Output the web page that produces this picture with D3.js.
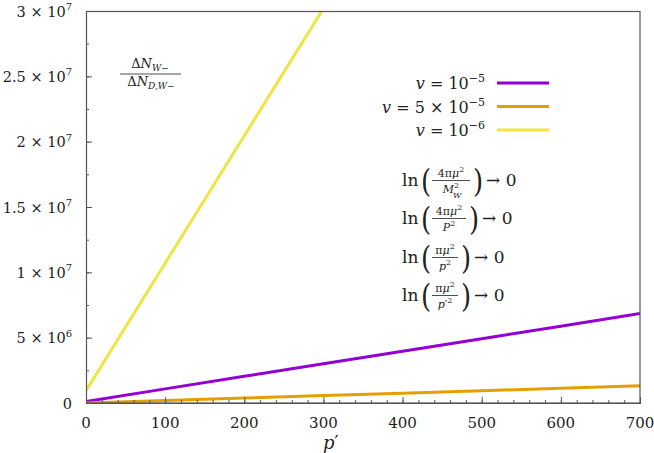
<!DOCTYPE html>
<html>
<head>
<meta charset="utf-8">
<title>dN ratio vs p'</title>
<script src="https://cdnjs.cloudflare.com/ajax/libs/d3/7.8.5/d3.min.js"></script>
<style>
  body { margin: 0; background: #fff; }
  text, tspan { font-family: "DejaVu Serif", serif !important; }
  .it { font-style: italic; }
  .up { font-style: normal; }
</style>
</head>
<body>
<svg id="svg" width="654" height="453"></svg>
<script>
// data
const pVals = [0, 100, 200, 300, 400, 500, 600, 700]
const v1e5 = [0.12e6, 1.08e6, 2.04e6, 3.0e6, 3.96e6, 4.92e6, 5.88e6, 6.85e6]
const v5e5 = [0, 0.19e6, 0.38e6, 0.57e6, 0.75e6, 0.94e6, 1.13e6, 1.32e6]
const v1e6 = [0.95e6, 1.07e7, 2.045e7, 3.02e7]
const xTicks = [0, 100, 200, 300, 400, 500, 600, 700]
const yTicks = [0, 5e6, 1e7, 1.5e7, 2e7, 2.5e7, 3e7]
const yTickMant = ["0", "5", "1", "1.5", "2", "2.5", "3"]
const yTickExp = [null, "6", "7", "7", "7", "7", "7"]
const series = [
  {mant: null, exp: "−5", color: "#9400d3", vals: v1e5},
  {mant: "5", exp: "−5", color: "#e69f00", vals: v5e5},
  {mant: null, exp: "−6", color: "#f0e442", vals: v1e6}
]

const svg = d3.select("#svg")
const x = d3.scaleLinear().domain([0, 700]).range([86, 640])
const y = d3.scaleLinear().domain([0, 3e7]).range([403, 11])
const ink = "#222"

svg.append("clipPath").attr("id", "clip")
  .append("rect").attr("x", 86).attr("y", 11).attr("width", 554).attr("height", 392)

// lines
const line = d3.line().x(d => x(d[0])).y(d => y(d[1]))
series.forEach(s => {
  svg.append("path")
    .datum(s.vals.map((v, i) => [pVals[i], v]))
    .attr("clip-path", "url(#clip)")
    .attr("fill", "none")
    .attr("stroke", s.color)
    .attr("stroke-width", 3)
    .attr("d", line)
})

// frame
svg.append("rect").attr("x", 86.5).attr("y", 11.5).attr("width", 553.5).attr("height", 391.5)
  .attr("fill", "none").attr("stroke", "#555").attr("stroke-width", 1.2)

// axes, ticks pointing inward
const xMinor = d3.range(0, 701, 20)
const yMinor = d3.range(0, 3e7 + 1, 2.5e6)
svg.append("g").attr("transform", "translate(0,403)")
  .call(d3.axisBottom(x).tickValues(xMinor).tickSize(-3).tickFormat(""))
svg.append("g").attr("transform", "translate(0,403)")
  .call(d3.axisBottom(x).tickValues(xTicks).tickSize(-6).tickFormat(""))
svg.append("g").attr("transform", "translate(86,0)")
  .call(d3.axisLeft(y).tickValues(yMinor).tickSize(-3).tickFormat(""))
svg.append("g").attr("transform", "translate(86,0)")
  .call(d3.axisLeft(y).tickValues(yTicks).tickSize(-6).tickFormat(""))
svg.selectAll(".domain").attr("stroke", "#555")
svg.selectAll(".tick line").attr("stroke", "#555")

// x tick labels
svg.selectAll(".xl").data(xTicks).enter().append("text")
  .attr("x", d => x(d)).attr("y", 428).attr("fill", ink)
  .attr("text-anchor", "middle").attr("font-size", 15)
  .text(d => d)

// y tick labels  a × 10^b
yTicks.forEach((v, i) => {
  const t = svg.append("text").attr("x", 72).attr("y", y(v) + 5.5).attr("fill", ink)
    .attr("text-anchor", "end").attr("font-size", 14.5)
  if (yTickExp[i] === null) { t.text(yTickMant[i]); return }
  t.append("tspan").text(yTickMant[i] + " × 10")
  t.append("tspan").attr("dy", -6.5).attr("font-size", 10).text(yTickExp[i])
})

// x axis label
const xl = svg.append("text").attr("x", 323).attr("y", 449).attr("fill", ink).attr("font-size", 18)
xl.append("tspan").attr("class", "it").text("p")
xl.append("tspan").attr("class", "up").text("′")

// legend
series.forEach((s, i) => {
  const ly = 83 + i * 23.5
  svg.append("line").attr("x1", 497).attr("x2", 549).attr("y1", ly).attr("y2", ly)
    .attr("stroke", s.color).attr("stroke-width", 3)
  const t = svg.append("text").attr("x", 485).attr("y", ly + 6).attr("fill", ink)
    .attr("text-anchor", "end").attr("font-size", 16)
  t.append("tspan").attr("class", "it").text("v")
  t.append("tspan").text(" = " + (s.mant ? s.mant + " × " : "") + "10")
  t.append("tspan").attr("dy", -7).attr("font-size", 11).text(s.exp)
})

// top-left ratio
const fr = svg.append("g").attr("fill", ink)
const num = fr.append("text").attr("x", 150).attr("y", 68).attr("text-anchor", "middle").attr("font-size", 13)
num.append("tspan").text("Δ")
num.append("tspan").attr("class", "it").text("N")
num.append("tspan").attr("class", "it").attr("dy", 3).attr("font-size", 9).text("W")
num.append("tspan").attr("font-size", 9).text("−")
fr.append("line").attr("x1", 120).attr("x2", 181).attr("y1", 74).attr("y2", 74)
  .attr("stroke", ink).attr("stroke-width", 0.8)
const den = fr.append("text").attr("x", 151).attr("y", 86).attr("text-anchor", "middle").attr("font-size", 13)
den.append("tspan").text("Δ")
den.append("tspan").attr("class", "it").text("N")
den.append("tspan").attr("class", "it").attr("dy", 3).attr("font-size", 9).text("D,W")
den.append("tspan").attr("font-size", 9).text("−")

// ln(...) -> 0 notes
const notes = [
  {y: 186, w: 38, num: ["4π", "μ", "2"], den: ["M", "", "2", "W"]},
  {y: 224, w: 34, num: ["4π", "μ", "2"], den: ["P", "", "2", null]},
  {y: 263, w: 26, num: ["π", "μ", "2"], den: ["p", "", "2", null]},
  {y: 301, w: 26, num: ["π", "μ", "2"], den: ["p", "′", "2", null]}
]
notes.forEach(n => {
  const g = svg.append("g").attr("fill", ink)
  g.append("text").attr("x", 402).attr("y", n.y).attr("font-size", 17).text("ln")
  g.append("text").attr("x", 421).attr("y", n.y + 6).attr("font-size", 26)
    .attr("transform", `translate(0,${-(n.y + 6) * 0.2}) scale(1,1.2)`).text("(")
  const x0 = 432
  const cx = x0 + n.w / 2
  const nt = g.append("text").attr("x", cx).attr("y", n.y - 9).attr("text-anchor", "middle").attr("font-size", 11)
  nt.append("tspan").text(n.num[0])
  nt.append("tspan").attr("class", "it").text(n.num[1])
  nt.append("tspan").attr("dy", -5).attr("font-size", 8).text(n.num[2])
  g.append("line").attr("x1", x0).attr("x2", x0 + n.w).attr("y1", n.y - 5.5).attr("y2", n.y - 5.5)
    .attr("stroke", ink).attr("stroke-width", 0.8)
  const dt = g.append("text").attr("x", cx).attr("y", n.y + 7).attr("text-anchor", "middle").attr("font-size", 11)
  dt.append("tspan").attr("class", "it").text(n.den[0])
  if (n.den[1]) dt.append("tspan").text(n.den[1])
  dt.append("tspan").attr("dy", -5).attr("font-size", 8).text(n.den[2])
  if (n.den[3]) {
    g.append("text").attr("x", cx + 2).attr("y", n.y + 12).attr("class", "it")
      .attr("font-size", 8).text(n.den[3])
  }
  const rx = x0 + n.w + 3
  g.append("text").attr("x", rx).attr("y", n.y + 6).attr("font-size", 26)
    .attr("transform", `translate(0,${-(n.y + 6) * 0.2}) scale(1,1.2)`).text(")")
  g.append("text").attr("x", rx + 13).attr("y", n.y).attr("font-size", 17).text("→ 0")
})
</script>
</body>
</html>
